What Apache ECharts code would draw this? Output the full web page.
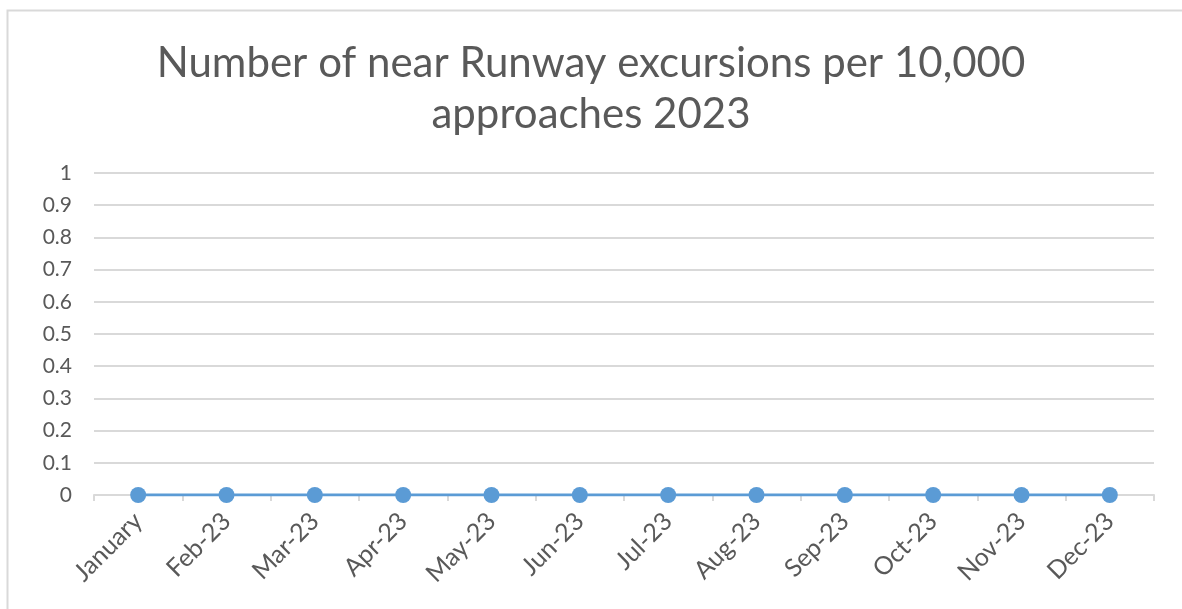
<!DOCTYPE html>
<html><head><meta charset="utf-8">
<script src="https://cdn.jsdelivr.net/npm/echarts@6/dist/echarts.min.js"></script>
<style>html,body{margin:0;padding:0;background:#fff}#c{width:1182px;height:609px}</style>
</head><body><div id="c"></div>
<script>
const titleText = 'Number of near Runway excursions per 10,000\napproaches 2023';
const categories = ['January','Feb-23','Mar-23','Apr-23','May-23','Jun-23','Jul-23','Aug-23','Sep-23','Oct-23','Nov-23','Dec-23'];
const values = [0,0,0,0,0,0,0,0,0,0,0,0];
const yMin = 0, yMax = 1, yInterval = 0.1;

const chart = echarts.init(document.getElementById('c'));
chart.setOption({
  backgroundColor: '#fff',
  animation: false,
  graphic: [{type:'rect', shape:{x:7.5,y:10.5,width:1190,height:620}, style:{fill:'none',stroke:'#d9d9d9',lineWidth:2}, silent:true}],
  title: {
    text: titleText, left: 'center', top: 33,
    textStyle: {fontFamily: 'Lato', fontSize: 42, fontWeight: 'normal', color: '#595959', lineHeight: 51}
  },
  grid: {left: 94, right: 28, top: 173, bottom: 114},
  xAxis: {
    type: 'category', data: categories, boundaryGap: true,
    axisLine: {lineStyle: {color: '#d9d9d9', width: 2}},
    axisTick: {show: true, alignWithLabel: false, length: 6, lineStyle: {color: '#d9d9d9', width: 2}},
    axisLabel: {rotate: 45, fontFamily: 'Lato', fontSize: 25, color: '#595959', margin: 22, interval: 0}
  },
  yAxis: {
    type: 'value', min: yMin, max: yMax, interval: yInterval,
    axisLine: {show: false}, axisTick: {show: false},
    splitLine: {lineStyle: {color: '#d9d9d9', width: 2}},
    axisLabel: {fontFamily: 'Lato', fontSize: 21, color: '#595959', margin: 22,
      formatter: v => String(Math.round(v*10)/10)}
  },
  series: [{
    type: 'line', data: values, symbol: 'circle', symbolSize: 16,
    lineStyle: {color: '#5B9BD5', width: 3}, itemStyle: {color: '#5B9BD5'}
  }]
});
</script></body></html>
